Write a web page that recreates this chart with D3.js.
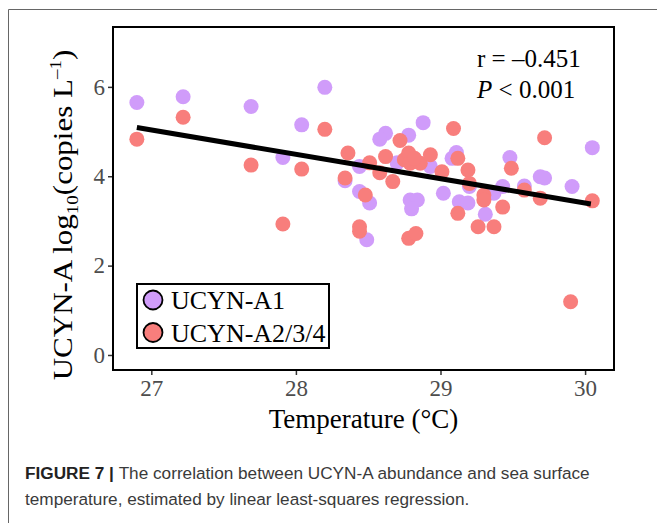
<!DOCTYPE html>
<html>
<head>
<meta charset="utf-8">
<script src="https://cdn.jsdelivr.net/npm/d3@7"></script>
<style>
  body { margin: 0; background: #fff; }
  svg { display: block; }
</style>
</head>
<body>
<div id="chart"></div>
<script>
// UCYN-A1 (temperature, log10 copies)
var a1Temp = [26.90, 27.22, 27.69, 28.04, 28.20, 27.91, 28.34, 28.44, 28.44, 28.51, 28.49,
  28.88, 28.62, 28.58, 28.78, 29.11, 29.08, 28.70, 28.93, 28.79, 28.84, 28.80, 29.02,
  29.13, 29.19, 29.31, 29.20, 29.37, 29.43, 29.48, 29.58, 29.69, 29.72, 29.91, 30.05];
var a1Log = [5.65, 5.78, 5.56, 5.15, 5.99, 4.42, 3.90, 4.22, 3.66, 3.40, 2.58,
  5.20, 4.96, 4.83, 4.92, 4.53, 4.40, 4.30, 4.22, 3.47, 3.47, 3.27, 3.62,
  3.43, 3.40, 3.15, 3.77, 3.62, 3.77, 4.42, 3.78, 3.99, 3.96, 3.77, 4.64];

// UCYN-A2/3/4
var a2Temp = [26.90, 27.22, 27.69, 28.04, 28.20, 27.91, 28.36, 28.34, 28.51, 28.48, 28.44,
  28.44, 28.58, 28.62, 28.67, 28.72, 28.75, 28.78, 28.79, 28.86, 28.82, 28.93, 28.78,
  28.83, 29.09, 29.12, 29.01, 29.19, 29.20, 29.12, 29.26, 29.37, 29.30, 29.30, 29.43,
  29.49, 29.58, 29.69, 29.72, 29.90, 30.05];
var a2Log = [4.83, 5.32, 4.25, 4.16, 5.05, 2.93, 4.52, 3.96, 4.30, 3.58, 2.87,
  2.77, 4.08, 4.44, 3.88, 4.80, 4.37, 4.52, 4.29, 4.29, 4.40, 4.48, 2.61,
  2.72, 5.07, 4.40, 4.10, 4.14, 3.84, 3.17, 2.87, 2.87, 3.58, 3.47, 3.31,
  4.18, 3.69, 3.51, 4.86, 1.19, 3.45];

// least-squares line
var fitTemp = [26.90, 30.04];
var fitLog = [5.09, 3.38];

var xTicks = [27, 28, 29, 30];
var yTicks = [0, 2, 4, 6];
var seriesNames = ["UCYN-A1", "UCYN-A2/3/4"];
var seriesColors = ["#d09cfa", "#f87e7c"];

var W = 657, H = 523;
var box = {left: 113, top: 27, right: 614, bottom: 370};
var serif = "'Liberation Serif', 'Times New Roman', serif";
var sans = "'Liberation Sans', Arial, sans-serif";

var svg = d3.select("#chart").append("svg")
  .attr("width", W)
  .attr("height", H);

// outer frame of the figure
svg.append("path")
  .attr("d", "M8.5," + H + "V9.5H" + W)
  .attr("fill", "none")
  .attr("stroke", "#666")
  .attr("stroke-width", 1);

var x = d3.scaleLinear().domain([26.735, 30.2]).range([box.left, box.right]);
var y = d3.scaleLinear().domain([-0.336, 7.34]).range([box.bottom, box.top]);

// axes
var xAxis = svg.append("g")
  .attr("transform", "translate(0," + box.bottom + ")")
  .call(d3.axisBottom(x).tickValues(xTicks).tickSize(5).tickPadding(5).tickFormat(d3.format("d")));
var yAxis = svg.append("g")
  .attr("transform", "translate(" + box.left + ",0)")
  .call(d3.axisLeft(y).tickValues(yTicks).tickSize(5).tickPadding(3).tickFormat(d3.format("d")));

[xAxis, yAxis].forEach(function (g) {
  g.select(".domain").remove();
  g.selectAll(".tick line").attr("stroke", "#333").attr("stroke-width", 1.5);
  g.selectAll(".tick text")
    .attr("fill", "#4d4d4d")
    .style("font-family", serif)
    .style("font-size", "23px");
});

// points
var pts = svg.append("g");
pts.selectAll("circle.a1")
  .data(d3.zip(a1Temp, a1Log))
  .join("circle")
  .attr("class", "a1")
  .attr("cx", function (d) { return x(d[0]); })
  .attr("cy", function (d) { return y(d[1]); })
  .attr("r", 7.5)
  .attr("fill", seriesColors[0]);
pts.selectAll("circle.a2")
  .data(d3.zip(a2Temp, a2Log))
  .join("circle")
  .attr("class", "a2")
  .attr("cx", function (d) { return x(d[0]); })
  .attr("cy", function (d) { return y(d[1]); })
  .attr("r", 7.5)
  .attr("fill", seriesColors[1]);

// regression line
svg.append("path")
  .datum(d3.zip(fitTemp, fitLog))
  .attr("d", d3.line().x(function (d) { return x(d[0]); }).y(function (d) { return y(d[1]); }))
  .attr("stroke", "#000")
  .attr("stroke-width", 5)
  .attr("fill", "none");

// panel border
svg.append("rect")
  .attr("x", box.left)
  .attr("y", box.top)
  .attr("width", box.right - box.left)
  .attr("height", box.bottom - box.top)
  .attr("fill", "none")
  .attr("stroke", "#000")
  .attr("stroke-width", 2);

// r and P
var stats = svg.append("text")
  .attr("font-family", serif)
  .attr("font-size", 25)
  .attr("fill", "#000");
stats.append("tspan").attr("x", 477).attr("y", 67).text("r = \u20130.451");
var p = stats.append("tspan").attr("x", 477).attr("y", 98);
p.append("tspan").attr("font-style", "italic").text("P");
p.append("tspan").text(" < 0.001");

// legend
var leg = svg.append("g");
leg.append("rect")
  .attr("x", 137).attr("y", 284)
  .attr("width", 192).attr("height", 64)
  .attr("fill", "#fff")
  .attr("stroke", "#000")
  .attr("stroke-width", 2);
seriesNames.forEach(function (name, i) {
  var cy = 300 + i * 32.5;
  leg.append("circle")
    .attr("cx", 153).attr("cy", cy).attr("r", 9.5)
    .attr("fill", seriesColors[i])
    .attr("stroke", "#000")
    .attr("stroke-width", 1.8);
  leg.append("text")
    .attr("x", 171).attr("y", cy + 9)
    .attr("font-family", serif)
    .attr("font-size", 26)
    .attr("fill", "#000")
    .text(name);
});

// axis titles
svg.append("text")
  .attr("x", (box.left + box.right) / 2)
  .attr("y", 428)
  .attr("text-anchor", "middle")
  .attr("font-family", serif)
  .attr("font-size", 27)
  .attr("fill", "#000")
  .text("Temperature (\u00b0C)");

// y title: glyphs look a bit squeezed across, so scale the height
var yt = svg.append("text")
  .attr("transform", "translate(72,215) rotate(-90) scale(1,0.88)")
  .attr("text-anchor", "middle")
  .attr("font-family", serif)
  .attr("font-size", 31)
  .attr("fill", "#000");
yt.append("tspan").text("UCYN-A log");
yt.append("tspan").attr("font-size", 19).attr("dy", 7).text("10");
yt.append("tspan").attr("dy", -7).text("(copies L");
yt.append("tspan").attr("font-size", 19).attr("dy", -13).text("\u20131");
yt.append("tspan").attr("dy", 13).text(")");

// caption
var cap = svg.append("g").attr("font-family", sans).attr("font-size", 17.2);
var line1 = cap.append("text").attr("x", 25).attr("y", 479).attr("fill", "#3a3a3a");
line1.append("tspan").attr("font-weight", "bold").attr("fill", "#222").text("FIGURE 7 | ");
line1.append("tspan").text("The correlation between UCYN-A abundance and sea surface");
cap.append("text").attr("x", 25).attr("y", 505).attr("fill", "#3a3a3a")
  .text("temperature, estimated by linear least-squares regression.");
</script>
</body>
</html>
